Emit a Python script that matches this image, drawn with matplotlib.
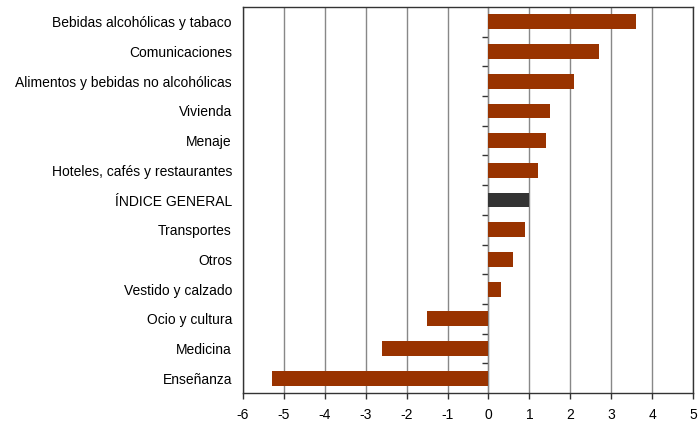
import matplotlib
matplotlib.use("Agg")
import matplotlib.pyplot as plt

# categorias de abajo hacia arriba
categorias = [
    "Enseñanza",
    "Medicina",
    "Ocio y cultura",
    "Vestido y calzado",
    "Otros",
    "Transportes",
    "ÍNDICE GENERAL",
    "Hoteles, cafés y restaurantes",
    "Menaje",
    "Vivienda",
    "Alimentos y bebidas no alcohólicas",
    "Comunicaciones",
    "Bebidas alcohólicas y tabaco",
]
valores = [-5.3, -2.6, -1.5, 0.3, 0.6, 0.9, 1.0, 1.2, 1.4, 1.5, 2.1, 2.7, 3.6]
x_ticks = [-6, -5, -4, -3, -2, -1, 0, 1, 2, 3, 4, 5]

plt.rcParams["font.family"] = ["Liberation Sans", "DejaVu Sans"]

fig = plt.figure(figsize=(6.98, 4.24), dpi=100)
ax = fig.add_axes([243 / 698, 1 - 393 / 424, 450 / 698, 386 / 424])

colores = ["#333333" if c == "ÍNDICE GENERAL" else "#993300" for c in categorias]
pos = list(range(len(categorias)))
ax.barh(pos, valores, height=0.5, color=colores, zorder=3)

ax.set_xlim(-6, 5)
ax.set_ylim(-0.5, len(categorias) - 0.5)
ax.set_xticks(x_ticks)
ax.set_xticklabels([str(t) for t in x_ticks], fontsize=10)
ax.set_yticks(pos)
ax.set_yticklabels(categorias, fontsize=10)
ax.tick_params(axis="y", length=0, pad=8)
ax.tick_params(axis="x", length=4, width=1, color="#333333", pad=7)
ax.grid(axis="x", color="#888888", linewidth=1, zorder=0)

for s in ax.spines.values():
    s.set_color("#333333")
    s.set_linewidth(1)

# eje en cero con marcas entre categorias
eje0 = ax.secondary_yaxis(6 / 11)
eje0.set_yticks([p + 0.5 for p in pos[:-1]])
eje0.set_yticklabels([])
eje0.tick_params(axis="y", direction="in", length=4, width=1, color="#333333")
eje0.spines["left"].set_color("#333333")

fig.savefig("out.png", dpi=100)
